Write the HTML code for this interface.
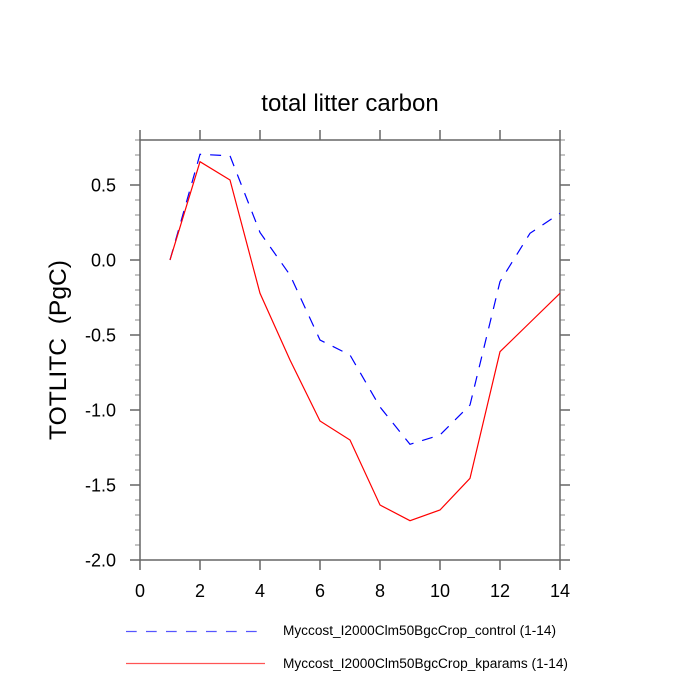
<!DOCTYPE html>
<html>
<head>
<meta charset="utf-8">
<style>
html,body{margin:0;padding:0;background:#fff;}
svg{display:block;}
text{font-family:"Liberation Sans",Arial,sans-serif;fill:#000;}
</style>
</head>
<body>
<svg width="700" height="700" viewBox="0 0 700 700" xmlns="http://www.w3.org/2000/svg">
<rect width="700" height="700" fill="#fff"/>

<!-- title -->
<text x="350" y="111" font-size="24" text-anchor="middle">total litter carbon</text>

<!-- y axis label -->
<text transform="translate(66,350) rotate(-90)" font-size="24" text-anchor="middle" textLength="180" lengthAdjust="spacingAndGlyphs">TOTLITC&#160;&#160;(PgC)</text>

<!-- minor y ticks -->
<path fill="none" stroke="#8a8a8a" stroke-width="1" d="
M135 545H140M135 530H140M135 515H140M135 500H140
M135 470H140M135 455H140M135 440H140M135 425H140
M135 395H140M135 380H140M135 365H140M135 350H140
M135 320H140M135 305H140M135 290H140M135 275H140
M135 245H140M135 230H140M135 215H140M135 200H140
M135 170H140M135 155H140M135 140H140
M560 545H565M560 530H565M560 515H565M560 500H565
M560 470H565M560 455H565M560 440H565M560 425H565
M560 395H565M560 380H565M560 365H565M560 350H565
M560 320H565M560 305H565M560 290H565M560 275H565
M560 245H565M560 230H565M560 215H565M560 200H565
M560 170H565M560 155H565M560 140H565"/>

<!-- major ticks -->
<path fill="none" stroke="#666" stroke-width="1.5" d="
M130 560H140M130 485H140M130 410H140M130 335H140M130 260H140M130 185H140
M560 560H570M560 485H570M560 410H570M560 335H570M560 260H570M560 185H570
M140 560V570M200 560V570M260 560V570M320 560V570M380 560V570M440 560V570M500 560V570M560 560V570
M140 140V130M200 140V130M260 140V130M320 140V130M380 140V130M440 140V130M500 140V130M560 140V130"/>

<!-- plot box -->
<rect x="140" y="140" width="420" height="420" fill="none" stroke="#666" stroke-width="1.5"/>

<!-- y tick labels -->
<g font-size="18" text-anchor="end">
<text x="116" y="191.5">0.5</text>
<text x="116" y="266.5">0.0</text>
<text x="116" y="341.5">-0.5</text>
<text x="116" y="416.5">-1.0</text>
<text x="116" y="491.5">-1.5</text>
<text x="116" y="566.5">-2.0</text>
</g>

<!-- x tick labels -->
<g font-size="18" text-anchor="middle">
<text x="140" y="597">0</text>
<text x="200" y="597">2</text>
<text x="260" y="597">4</text>
<text x="320" y="597">6</text>
<text x="380" y="597">8</text>
<text x="440" y="597">10</text>
<text x="500" y="597">12</text>
<text x="560" y="597">14</text>
</g>

<!-- control series (blue dashed) -->
<polyline fill="none" stroke="#0000ff" stroke-width="1.2" stroke-dasharray="11 9"
points="170,260 200,154.3 230,155.8 260,232.5 290,275 320,340 350,355 380,407 410,444.3 440,435 470,405 500,281.6 530,233.3 560,213.3"/>

<!-- kparams series (red solid) -->
<polyline fill="none" stroke="#ff0000" stroke-width="1.2"
points="170,260 200,161.7 230,180 260,293.3 290,360 320,421 350,440 380,505 410,520.7 440,510 470,478.3 500,351.7 530,322.5 560,293.3"/>

<!-- legend -->
<line x1="126" y1="631.5" x2="262" y2="631.5" stroke="#5555ff" stroke-width="1.2" stroke-dasharray="10.7 9.3"/>
<line x1="126" y1="663.5" x2="265" y2="663.5" stroke="#ff5555" stroke-width="1.2"/>
<g font-size="13.5">
<text x="283" y="635" textLength="273" lengthAdjust="spacingAndGlyphs">Myccost_I2000Clm50BgcCrop_control (1-14)</text>
<text x="283" y="668" textLength="285" lengthAdjust="spacingAndGlyphs">Myccost_I2000Clm50BgcCrop_kparams (1-14)</text>
</g>
</svg>
</body>
</html>
